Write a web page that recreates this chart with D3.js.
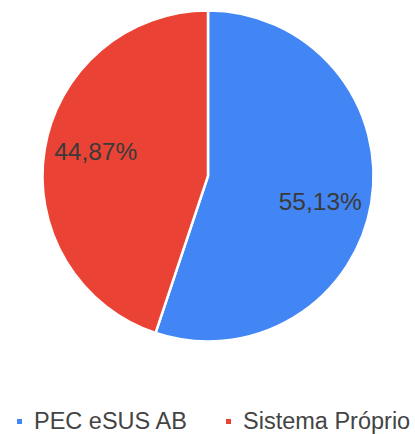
<!DOCTYPE html>
<html>
<head>
<meta charset="utf-8">
<script src="https://cdn.jsdelivr.net/npm/d3@7"></script>
<style>
  body { margin: 0; background: #fff; }
  svg { display: block; font-family: "Liberation Sans", Arial, sans-serif; }
</style>
</head>
<body>
<div id="chart"></div>
<script>
const W = 415, H = 434;

// data
const categories = ["PEC eSUS AB", "Sistema Próprio"];
const values = [55.13, 44.87];
const labels = ["55,13%", "44,87%"];
const colors = ["#4285f4", "#ea4335"];

const cx = 208, cy = 176, r = 165.5;

const svg = d3.select("#chart").append("svg").attr("width", W).attr("height", H);

const pie = d3.pie().sort(null).value(d => d.value);
const arcs = pie(categories.map((c, i) => ({ name: c, value: values[i], label: labels[i], color: colors[i] })));

const arc = d3.arc().innerRadius(0).outerRadius(r);

// label spot: a bit past the middle angle, ~0.69 of the radius
const labelPos = d => {
  const a = (d.startAngle + d.endAngle) / 2 + 3.3 * Math.PI / 180;
  const rr = r * 0.695;
  return [Math.sin(a) * rr, -Math.cos(a) * rr];
}

const g = svg.append("g").attr("transform", `translate(${cx},${cy})`);

g.selectAll("path.slice")
  .data(arcs)
  .enter()
  .append("path")
  .attr("class", "slice")
  .attr("d", arc)
  .attr("fill", d => d.data.color)
  .attr("stroke", "#fff")
  .attr("stroke-width", 2.5)

g.selectAll("text.lbl")
  .data(arcs)
  .enter()
  .append("text")
  .attr("class", "lbl")
  .attr("transform", d => `translate(${labelPos(d)})`)
  .attr("text-anchor", "middle")
  .attr("dy", "0.36em")
  .attr("font-size", 24.5)
  .attr("fill", "#3a3a3a")
  .text(d => d.data.label)

// legend
const legendX = [17, 226];
const legend = svg.selectAll("g.leg")
  .data(arcs)
  .enter()
  .append("g")
  .attr("class", "leg")
  .attr("transform", (d, i) => `translate(${legendX[i]},421)`)

legend.append("rect")
  .attr("x", 0).attr("y", -2)
  .attr("width", 5).attr("height", 5)
  .attr("fill", d => d.data.color)

legend.append("text")
  .attr("x", 17)
  .attr("y", 7.5)
  .attr("font-size", 23.5)
  .attr("fill", "#444")
  .text(d => d.data.name)
</script>
</body>
</html>
